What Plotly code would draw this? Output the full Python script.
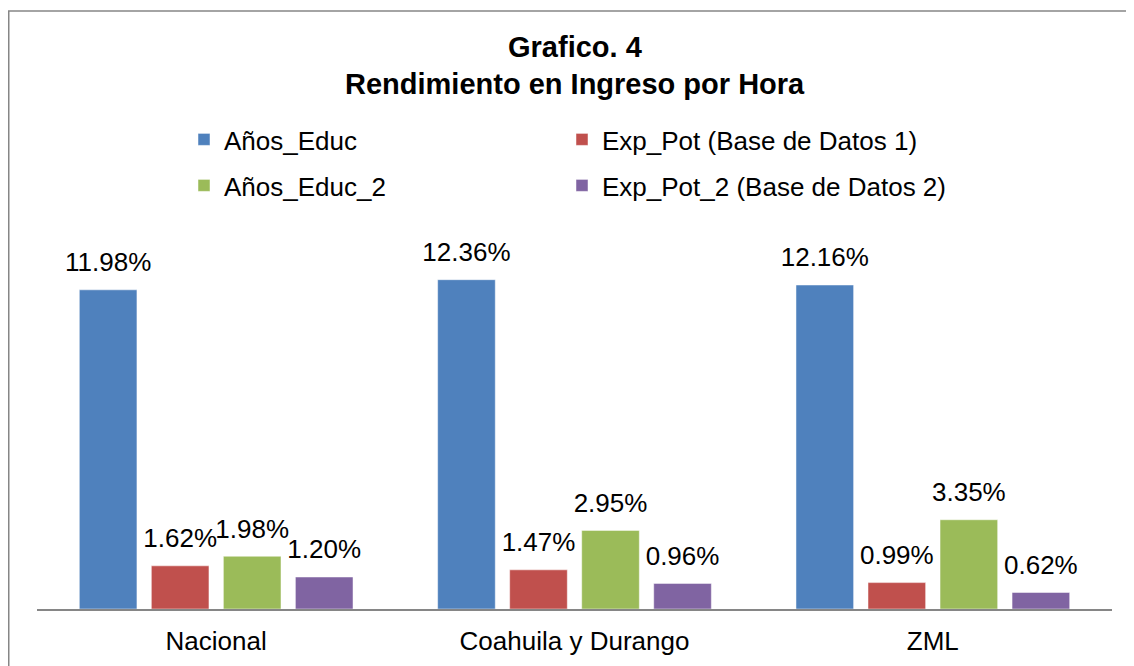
import plotly.graph_objects as go

categories = ["Nacional", "Coahuila y Durango", "ZML"]
series_names = ["Años_Educ", "Exp_Pot (Base de Datos 1)", "Años_Educ_2", "Exp_Pot_2 (Base de Datos 2)"]
anos_educ = [11.98, 12.36, 12.16]
exp_pot = [1.62, 1.47, 0.99]
anos_educ_2 = [1.98, 2.95, 3.35]
exp_pot_2 = [1.20, 0.96, 0.62]
colors = ["#4F81BD", "#C0504D", "#9BBB59", "#8064A2"]
legend_ids = ["legend", "legend2", "legend3", "legend4"]

# page body adds an 8px offset; work in reference-pixel coordinates
OFF = 8
W, H = 1134 - OFF, 666 - OFF
PX0, PX1, PY0, PY1 = 37, 1112, 236, 609   # plot area in reference pixels
L, R = PX0 - OFF, W - (PX1 - OFF)
T, B = PY0 - OFF, H - (PY1 - OFF)
PW, PH = PX1 - PX0, PY1 - PY0

def px_x(x):
    return (x - PX0) / PW

def px_y(y):
    return (PY1 - y) / PH

FONT = "Liberation Sans, Arial, sans-serif"
FS = 26

fig = go.Figure()
for name, vals, col, lg in zip(series_names, [anos_educ, exp_pot, anos_educ_2, exp_pot_2], colors, legend_ids):
    fig.add_trace(go.Bar(
        x=categories, y=vals, name=name, legend=lg,
        marker=dict(color=col, line=dict(color="rgba(255,255,255,0.6)", width=0.8)),
        text=[f"<span style='font-size:{FS}px'>{v:.2f}%</span><br>\u00a0" for v in vals],
        textposition="outside",
        textfont=dict(size=10.5, color="#000000", family=FONT),
        constraintext="none", cliponaxis=False,
    ))

legend_pos = {"legend": (184, 116), "legend2": (562, 116), "legend3": (184, 162), "legend4": (562, 162)}
legend_layout = {
    k: dict(x=px_x(x), y=px_y(y), xanchor="left", yanchor="top", font=dict(size=FS),
            bgcolor="rgba(0,0,0,0)", orientation="h")
    for k, (x, y) in legend_pos.items()
}

fig.update_layout(
    width=W, height=H,
    margin=dict(l=L, r=R, t=T, b=B, autoexpand=False),
    paper_bgcolor="white", plot_bgcolor="white",
    barmode="group", bargap=0.196, bargroupgap=0.2,
    font=dict(family=FONT, size=FS, color="#000000"),
    xaxis=dict(showline=True, linecolor="#868686", linewidth=2, ticks="",
               tickfont=dict(size=FS), showgrid=False, ticklabelstandoff=8),
    yaxis=dict(range=[0, 14], visible=False, showgrid=False),
    showlegend=True,
    **legend_layout,
)

fig.add_annotation(text="<b>Grafico. 4</b>", xref="paper", yref="paper",
                   x=px_x(575), y=px_y(47), showarrow=False,
                   font=dict(size=29, family=FONT), xanchor="center", yanchor="middle")
fig.add_annotation(text="<b>Rendimiento en Ingreso por Hora</b>", xref="paper", yref="paper",
                   x=px_x(575), y=px_y(84), showarrow=False,
                   font=dict(size=29, family=FONT), xanchor="center", yanchor="middle")

fig.add_shape(type="rect", xref="paper", yref="paper",
              x0=px_x(OFF + 0.75), x1=px_x(1145), y0=px_y(700), y1=px_y(11),
              line=dict(color="#868686", width=1.5), fillcolor="rgba(0,0,0,0)", layer="below")

fig.write_html("out.html")
